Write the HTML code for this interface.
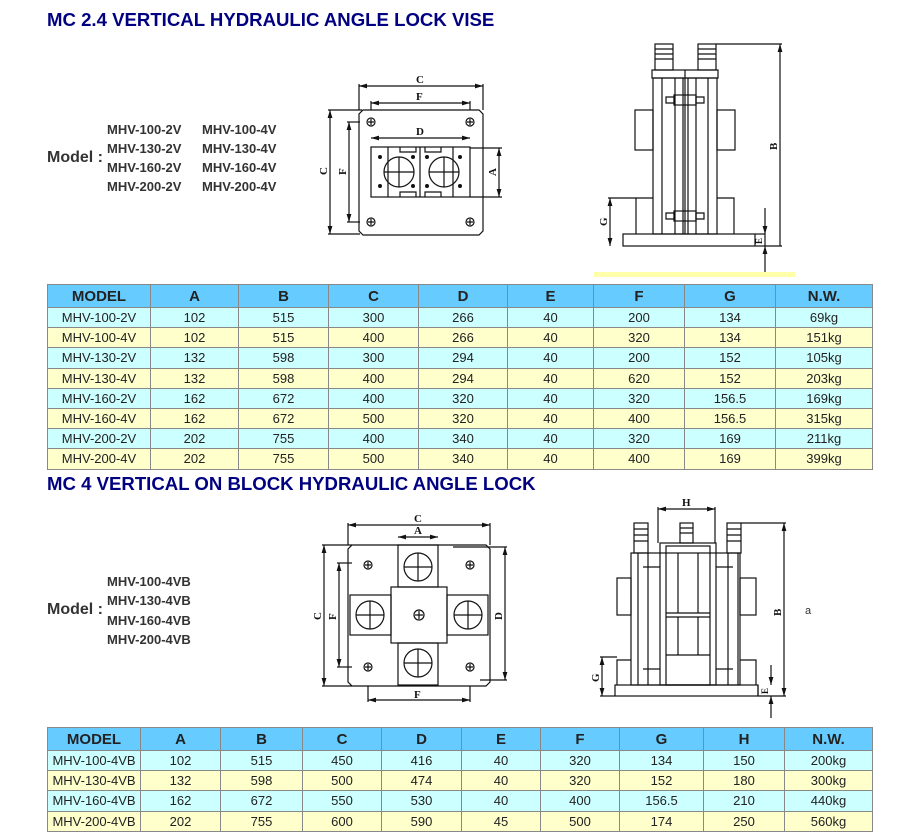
<!DOCTYPE html>
<html><head><meta charset="utf-8"><style>
body{margin:0;width:900px;height:836px;background:#fff;position:relative;font-family:"Liberation Sans",Arial,sans-serif;overflow:hidden}
.t{position:absolute;left:47px;color:#000080;font-weight:bold;font-size:18.6px;margin:0;white-space:nowrap}
.m{position:absolute;font-weight:bold;font-size:13px;color:#333;white-space:nowrap}
.ml{position:absolute;left:47px;font-weight:bold;font-size:16px;color:#333}
table{position:absolute;left:47px;border-collapse:collapse;font-size:13px;color:#222}
td,th{border:1px solid #888;text-align:center;padding:0;height:19.2px;line-height:19px}
th{background:#66ccff;font-size:15px;height:22px;color:#222}
tr.c td{background:#ccffff}tr.y td{background:#ffffcc}
svg{position:absolute;left:0;top:0}
</style></head><body>
<div class="t" style="top:9px">MC 2.4 VERTICAL HYDRAULIC ANGLE LOCK VISE</div>
<div class="t" style="top:473px">MC 4 VERTICAL ON BLOCK HYDRAULIC ANGLE LOCK</div>
<div class="ml" style="top:149px">Model :</div>
<div class="m" style="left:107px;top:122px">MHV-100-2V</div><div class="m" style="left:202px;top:122px">MHV-100-4V</div>
<div class="m" style="left:107px;top:141px">MHV-130-2V</div><div class="m" style="left:202px;top:141px">MHV-130-4V</div>
<div class="m" style="left:107px;top:160px">MHV-160-2V</div><div class="m" style="left:202px;top:160px">MHV-160-4V</div>
<div class="m" style="left:107px;top:179px">MHV-200-2V</div><div class="m" style="left:202px;top:179px">MHV-200-4V</div>
<div class="ml" style="top:601px">Model :</div>
<div class="m" style="left:107px;top:574px">MHV-100-4VB</div>
<div class="m" style="left:107px;top:593px">MHV-130-4VB</div>
<div class="m" style="left:107px;top:613px">MHV-160-4VB</div>
<div class="m" style="left:107px;top:632px">MHV-200-4VB</div>
<div style="position:absolute;left:805px;top:605px;font-size:11px;color:#333">a</div>

<table style="top:284px;width:826px">
<tr><th style="width:102px">MODEL</th><th style="width:87px">A</th><th style="width:89px">B</th><th style="width:89px">C</th><th style="width:88px">D</th><th style="width:85px">E</th><th style="width:90px">F</th><th style="width:90px">G</th><th>N.W.</th></tr>
<tr class="c"><td>MHV-100-2V</td><td>102</td><td>515</td><td>300</td><td>266</td><td>40</td><td>200</td><td>134</td><td>69kg</td></tr>
<tr class="y"><td>MHV-100-4V</td><td>102</td><td>515</td><td>400</td><td>266</td><td>40</td><td>320</td><td>134</td><td>151kg</td></tr>
<tr class="c"><td>MHV-130-2V</td><td>132</td><td>598</td><td>300</td><td>294</td><td>40</td><td>200</td><td>152</td><td>105kg</td></tr>
<tr class="y"><td>MHV-130-4V</td><td>132</td><td>598</td><td>400</td><td>294</td><td>40</td><td>620</td><td>152</td><td>203kg</td></tr>
<tr class="c"><td>MHV-160-2V</td><td>162</td><td>672</td><td>400</td><td>320</td><td>40</td><td>320</td><td>156.5</td><td>169kg</td></tr>
<tr class="y"><td>MHV-160-4V</td><td>162</td><td>672</td><td>500</td><td>320</td><td>40</td><td>400</td><td>156.5</td><td>315kg</td></tr>
<tr class="c"><td>MHV-200-2V</td><td>202</td><td>755</td><td>400</td><td>340</td><td>40</td><td>320</td><td>169</td><td>211kg</td></tr>
<tr class="y"><td>MHV-200-4V</td><td>202</td><td>755</td><td>500</td><td>340</td><td>40</td><td>400</td><td>169</td><td>399kg</td></tr>
</table>

<table style="top:727px;width:826px">
<tr><th style="width:92px">MODEL</th><th style="width:79px">A</th><th style="width:81px">B</th><th style="width:78px">C</th><th style="width:79px">D</th><th style="width:78px">E</th><th style="width:78px">F</th><th style="width:83px">G</th><th style="width:80px">H</th><th>N.W.</th></tr>
<tr class="c"><td>MHV-100-4VB</td><td>102</td><td>515</td><td>450</td><td>416</td><td>40</td><td>320</td><td>134</td><td>150</td><td>200kg</td></tr>
<tr class="y"><td>MHV-130-4VB</td><td>132</td><td>598</td><td>500</td><td>474</td><td>40</td><td>320</td><td>152</td><td>180</td><td>300kg</td></tr>
<tr class="c"><td>MHV-160-4VB</td><td>162</td><td>672</td><td>550</td><td>530</td><td>40</td><td>400</td><td>156.5</td><td>210</td><td>440kg</td></tr>
<tr class="y"><td>MHV-200-4VB</td><td>202</td><td>755</td><td>600</td><td>590</td><td>45</td><td>500</td><td>174</td><td>250</td><td>560kg</td></tr>
</table>

<svg width="900" height="836" viewBox="0 0 900 836" fill="none" stroke="#111" stroke-width="1.2" font-family="Liberation Serif,serif" font-weight="bold" font-size="11">
<defs><marker id="a" viewBox="0 0 10 6" refX="10" refY="3" markerWidth="8" markerHeight="4" orient="auto-start-reverse"><path d="M0 0L10 3L0 6z" fill="#111" stroke="none"/></marker></defs>
<g>
<path d="M363 110H479L483 114V231L479 235H363L359 231V114Z"/>
<line x1="359" y1="86" x2="483" y2="86" marker-start="url(#a)" marker-end="url(#a)"/>
<line x1="359" y1="84" x2="359" y2="110"/><line x1="483" y1="84" x2="483" y2="110"/>
<line x1="371" y1="103" x2="470" y2="103" marker-start="url(#a)" marker-end="url(#a)"/>
<line x1="371" y1="101" x2="371" y2="110"/><line x1="470" y1="101" x2="470" y2="110"/>
<line x1="371" y1="138" x2="470" y2="138" marker-start="url(#a)" marker-end="url(#a)"/>
<rect x="371" y="147" width="99" height="50"/>
<line x1="420" y1="147" x2="420" y2="197"/>
<path d="M388 147v50M453 147v50M400 147v5h16v-5M425 147v5h16v-5M400 197v-5h16v5M425 197v-5h16v5"/>
<circle cx="399" cy="172" r="15"/><circle cx="444" cy="172" r="15"/>
<path d="M384 172h30M399 157v30M429 172h30M444 157v30"/>
<g fill="#111" stroke="none"><circle cx="380" cy="157" r="2"/><circle cx="413" cy="157" r="2"/><circle cx="380" cy="186" r="2"/><circle cx="413" cy="186" r="2"/><circle cx="427" cy="157" r="2"/><circle cx="460" cy="157" r="2"/><circle cx="427" cy="186" r="2"/><circle cx="460" cy="186" r="2"/></g>
<g><circle cx="371" cy="122" r="4"/><circle cx="470" cy="122" r="4"/><circle cx="371" cy="222" r="4"/><circle cx="470" cy="222" r="4"/>
<path d="M368 122h6M371 119v6M467 122h6M470 119v6M368 222h6M371 219v6M467 222h6M470 219v6"/></g>
<line x1="330" y1="110" x2="330" y2="234" marker-start="url(#a)" marker-end="url(#a)"/>
<line x1="328" y1="110" x2="362" y2="110"/><line x1="328" y1="234" x2="360" y2="234"/>
<line x1="349" y1="122" x2="349" y2="222" marker-start="url(#a)" marker-end="url(#a)"/>
<line x1="347" y1="122" x2="360" y2="122"/><line x1="347" y1="222" x2="360" y2="222"/>
<line x1="499" y1="148" x2="499" y2="197" marker-start="url(#a)" marker-end="url(#a)"/>
<line x1="470" y1="148" x2="502" y2="148"/><line x1="470" y1="197" x2="502" y2="197"/>
</g>
<g fill="#111" stroke="none"><text x="416" y="83">C</text><text x="416" y="100">F</text><text x="416" y="135">D</text>
<text transform="translate(327 175) rotate(-90)">C</text><text transform="translate(346 175) rotate(-90)">F</text><text transform="translate(496 176) rotate(-90)">A</text></g>
<g>
<rect x="623" y="234" width="142" height="12"/><line x1="755" y1="234" x2="755" y2="246"/>
<rect x="653" y="78" width="64" height="156"/>
<rect x="652" y="70" width="66" height="8"/>
<rect x="655" y="44" width="18" height="26"/><rect x="698" y="44" width="18" height="26"/>
<path d="M655 49h18M655 54h18M655 59h18M698 49h18M698 54h18M698 59h18"/>
<path d="M662 78v156M675 78v156M683 78v156M685 70v164M688 78v156M696 78v156M708 78v156"/>
<rect x="674" y="95" width="22" height="10"/><rect x="674" y="211" width="22" height="10"/>
<path d="M666 97h8v6h-8zM696 97h8v6h-8zM666 213h8v6h-8zM696 213h8v6h-8z"/>
<rect x="635" y="110" width="18" height="40"/><rect x="717" y="110" width="18" height="40"/>
<path d="M636 234v-36h17M734 234v-36h-17"/>
<line x1="780" y1="44" x2="780" y2="246" marker-start="url(#a)"/>
<line x1="716" y1="44" x2="782" y2="44"/><line x1="765" y1="246" x2="782" y2="246"/>
<line x1="610" y1="198" x2="610" y2="246" marker-start="url(#a)" marker-end="url(#a)"/>
<line x1="608" y1="198" x2="636" y2="198"/>
<line x1="765" y1="208" x2="765" y2="234" marker-end="url(#a)"/><line x1="765" y1="273" x2="765" y2="246" marker-end="url(#a)"/>
</g>
<rect x="594" y="272" width="201" height="5" fill="#ffffaa" stroke="none"/>
<g fill="#111" stroke="none"><text transform="translate(777 150) rotate(-90)">B</text><text transform="translate(607 226) rotate(-90)">G</text><text transform="translate(762 244) rotate(-90)" font-size="9">E</text></g>

<g>
<path d="M352 545H486L490 549V682L486 686H352L348 682V549Z"/>
<line x1="348" y1="525" x2="490" y2="525" marker-start="url(#a)" marker-end="url(#a)"/>
<line x1="348" y1="523" x2="348" y2="545"/><line x1="490" y1="523" x2="490" y2="545"/>
<line x1="398" y1="537" x2="438" y2="537" marker-start="url(#a)" marker-end="url(#a)"/>
<rect x="391" y="587" width="56" height="56"/>
<rect x="398" y="545" width="40" height="42"/><rect x="398" y="643" width="40" height="42"/>
<rect x="350" y="595" width="41" height="40"/><rect x="447" y="595" width="41" height="40"/>
<circle cx="418" cy="567" r="14"/><circle cx="418" cy="663" r="14"/><circle cx="370" cy="615" r="14"/><circle cx="468" cy="615" r="14"/>
<path d="M404 567h28M418 553v28M404 663h28M418 649v28M356 615h28M370 601v28M454 615h28M468 601v28"/>
<circle cx="419" cy="615" r="5"/><path d="M415 615h8M419 611v8"/>
<g><circle cx="368" cy="565" r="4"/><circle cx="470" cy="565" r="4"/><circle cx="368" cy="667" r="4"/><circle cx="470" cy="667" r="4"/>
<path d="M365 565h6M368 562v6M467 565h6M470 562v6M365 667h6M368 664v6M467 667h6M470 664v6"/></g>
<line x1="324" y1="545" x2="324" y2="686" marker-start="url(#a)" marker-end="url(#a)"/>
<line x1="322" y1="545" x2="352" y2="545"/><line x1="322" y1="686" x2="352" y2="686"/>
<line x1="339" y1="563" x2="339" y2="667" marker-start="url(#a)" marker-end="url(#a)"/>
<line x1="337" y1="563" x2="352" y2="563"/><line x1="337" y1="667" x2="352" y2="667"/>
<line x1="505" y1="547" x2="505" y2="680" marker-start="url(#a)" marker-end="url(#a)"/>
<line x1="453" y1="547" x2="507" y2="547"/><line x1="480" y1="680" x2="507" y2="680"/>
<line x1="368" y1="700" x2="470" y2="700" marker-start="url(#a)" marker-end="url(#a)"/>
<line x1="368" y1="686" x2="368" y2="702"/><line x1="470" y1="686" x2="470" y2="702"/>
</g>
<g fill="#111" stroke="none"><text x="414" y="522">C</text><text x="414" y="534">A</text><text x="414" y="698">F</text>
<text transform="translate(321 620) rotate(-90)">C</text><text transform="translate(336 620) rotate(-90)">F</text><text transform="translate(502 620) rotate(-90)">D</text></g>
<g>
<rect x="615" y="685" width="143" height="11"/><line x1="758" y1="685" x2="758" y2="696"/>
<rect x="631" y="553" width="109" height="132"/>
<rect x="660" y="543" width="56" height="142"/>
<rect x="666" y="546" width="44" height="139"/>
<path d="M666 613h44M666 617h44M666 655h44M678 553v60M698 553v60M678 617v38M698 617v38"/>
<path d="M638 553v132M648 553v132M728 553v132M738 553v132"/>
<rect x="634" y="523" width="14" height="30"/><rect x="680" y="523" width="13" height="20"/><rect x="727" y="523" width="14" height="30"/>
<path d="M634 529h14M634 535h14M634 541h14M680 528h13M680 533h13M727 529h14M727 535h14M727 541h14"/>
<rect x="617" y="578" width="14" height="37"/><rect x="740" y="578" width="16" height="37"/>
<path d="M617 685v-25h14M756 685v-25h-16"/>
<path d="M643 567h17M716 567h17M643 669h17M716 669h17"/>
<line x1="658" y1="509" x2="715" y2="509" marker-start="url(#a)" marker-end="url(#a)"/>
<line x1="658" y1="507" x2="658" y2="543"/><line x1="715" y1="507" x2="715" y2="543"/>
<line x1="784" y1="523" x2="784" y2="696" marker-start="url(#a)" marker-end="url(#a)"/>
<line x1="741" y1="523" x2="786" y2="523"/><line x1="758" y1="696" x2="786" y2="696"/>
<line x1="602" y1="657" x2="602" y2="696" marker-start="url(#a)" marker-end="url(#a)"/>
<line x1="600" y1="657" x2="617" y2="657"/><line x1="600" y1="696" x2="615" y2="696"/>
<line x1="771" y1="665" x2="771" y2="685" marker-end="url(#a)"/><line x1="771" y1="718" x2="771" y2="696" marker-end="url(#a)"/>
</g>
<g fill="#111" stroke="none"><text x="682" y="506">H</text><text transform="translate(781 616) rotate(-90)">B</text><text transform="translate(599 682) rotate(-90)">G</text><text transform="translate(768 694) rotate(-90)" font-size="9">E</text></g>
</svg>
</body></html>
